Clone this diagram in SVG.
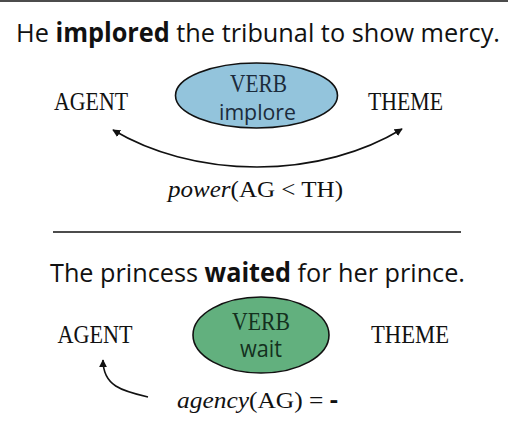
<svg xmlns="http://www.w3.org/2000/svg" width="508" height="426" viewBox="0 0 508 426">
  <defs>
    <marker id="arrow" viewBox="0 0 10 10" refX="9" refY="5" markerWidth="8" markerHeight="8" markerUnits="userSpaceOnUse" orient="auto">
      <path d="M0,0 L10,5 L0,10 Z" fill="#111"/>
    </marker>
    <style>
      .sans { font-family: "Open Sans", "Noto Sans", sans-serif; fill: #111; }
      .serif { font-family: "Liberation Serif", "DejaVu Serif", serif; fill: #111; }
      .title { font-size: 26px; text-anchor: middle; }
      .role { font-size: 25px; text-anchor: middle; }
      .formula { font-size: 24px; text-anchor: middle; }
      .verb { font-size: 25px; text-anchor: middle; }
      .vlab { font-size: 23px; text-anchor: middle; }
      .edge { fill: none; stroke: #111; stroke-width: 1.6; }
      .rule { stroke: #111; stroke-width: 1.6; }
    </style>
  </defs>

  <rect width="508" height="426" fill="#ffffff"/>
  <line class="rule" x1="0" y1="1" x2="508" y2="1"/>

  <!-- Panel 1 -->
  <text class="sans title" x="258" y="42" textLength="484" lengthAdjust="spacingAndGlyphs">He <tspan font-weight="bold">implored</tspan> the tribunal to show mercy.</text>

  <g id="agent1">
    <text class="serif role" x="91" y="110" textLength="74" lengthAdjust="spacingAndGlyphs">AGENT</text>
  </g>
  <g id="verb1">
    <ellipse cx="256.5" cy="95.5" rx="81" ry="32.5" fill="#93c4dc" stroke="#111" stroke-width="1.6"/>
    <text class="serif verb" x="258.5" y="91.5" style="fill:#1b2b3b" textLength="57" lengthAdjust="spacingAndGlyphs">VERB</text>
    <text class="sans vlab" x="257.5" y="120" style="fill:#1b2b3b; font-size:22px" textLength="77" lengthAdjust="spacingAndGlyphs">implore</text>
  </g>
  <g id="theme1">
    <text class="serif role" x="405.5" y="110" textLength="75" lengthAdjust="spacingAndGlyphs">THEME</text>
  </g>

  <g id="connectors1">
    <path class="edge" d="M257,167 C200,167 150,152 113,130" marker-end="url(#arrow)"/>
    <path class="edge" d="M257,167 C314,167 364,152 402,129" marker-end="url(#arrow)"/>
  </g>

  <g id="label1">
    <text class="serif formula" x="255.5" y="197" textLength="175" lengthAdjust="spacingAndGlyphs"><tspan font-style="italic">power</tspan>(AG &lt; TH)</text>
  </g>

  <line class="rule" x1="53" y1="232" x2="461" y2="232"/>

  <!-- Panel 2 -->
  <text class="sans title" x="257.5" y="282" textLength="415" lengthAdjust="spacingAndGlyphs">The princess <tspan font-weight="bold">waited</tspan> for her prince.</text>

  <g id="agent2">
    <text class="serif role" x="95" y="343" textLength="75" lengthAdjust="spacingAndGlyphs">AGENT</text>
  </g>
  <g id="verb2">
    <ellipse cx="261" cy="335" rx="68" ry="38" fill="#62b07e" stroke="#111" stroke-width="1.6"/>
    <text class="serif verb" x="261" y="330" style="fill:#14301e" textLength="58" lengthAdjust="spacingAndGlyphs">VERB</text>
    <text class="sans vlab" x="261" y="357" style="fill:#14301e" textLength="42" lengthAdjust="spacingAndGlyphs">wait</text>
  </g>
  <g id="theme2">
    <text class="serif role" x="410" y="343" textLength="78" lengthAdjust="spacingAndGlyphs">THEME</text>
  </g>

  <g id="connectors2">
    <path class="edge" d="M148,397 C122,391 103,386 103,360" marker-end="url(#arrow)"/>
  </g>

  <g id="label2">
    <text class="serif formula" x="257.5" y="408" textLength="161" lengthAdjust="spacingAndGlyphs"><tspan font-style="italic">agency</tspan>(AG) = <tspan font-family="Open Sans, sans-serif" font-weight="bold">-</tspan></text>
  </g>
</svg>
